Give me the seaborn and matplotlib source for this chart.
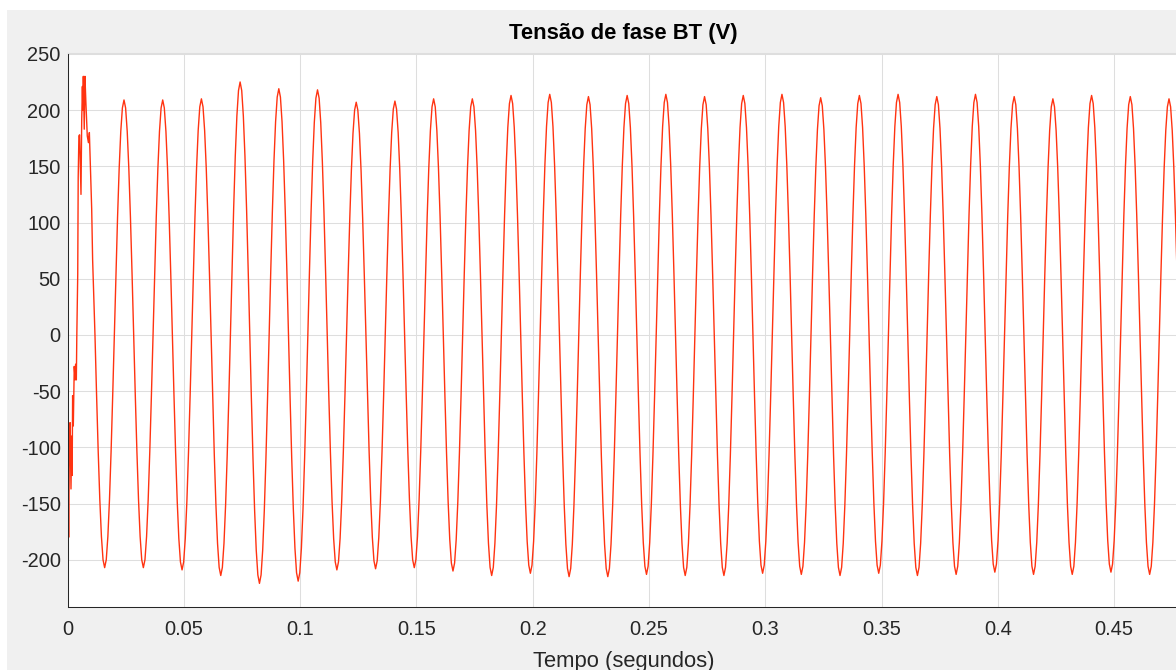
import numpy as np
import pandas as pd
import seaborn as sns
import matplotlib.pyplot as plt
from matplotlib.patches import Rectangle
from matplotlib.ticker import FuncFormatter

# first ~11 ms (switching transient)
t_start = [0.0000, 0.0003, 0.0005, 0.0008, 0.0011, 0.0015, 0.0018, 0.0020, 0.0022,
           0.0025, 0.0029, 0.0033, 0.0035, 0.0038, 0.0040, 0.0044, 0.0046, 0.0049,
           0.0052, 0.0055, 0.0058, 0.0061, 0.0064, 0.0066, 0.0068, 0.0072, 0.0075,
           0.0079, 0.0085, 0.0090, 0.0094, 0.0097, 0.0104, 0.0108]
v_start = [-195, -128, -180, -105, -78, -137, -90, -125, -54,
           -81, -28, -40, -26, -40, -1, 54, 140, 177,
           178, 150, 125, 190, 221, 200, 230, 183, 230,
           207, 177, 171, 180, 159, 112, 67]

# steady state: 24 samples per cycle, starting at the first falling zero crossing
t_first_zero = 0.00349   # first rising zero crossing (s)
period = 0.01664         # s
half_wave = [0.0, 0.259, 0.5, 0.707, 0.866, 0.966, 1.0, 0.966, 0.866, 0.707, 0.5, 0.259]
troughs = [-207, -207, -209, -214, -221, -219, -209, -208, -207, -210, -214, -212, -215, -215,
           -213, -214, -214, -212, -213, -214, -212, -214, -213, -211, -213, -213, -211, -213]
peaks = [209, 209, 210, 225, 219, 218, 207, 208, 210, 210, 213, 214, 212, 213,
         214, 212, 213, 214, 211, 213, 214, 212, 214, 212, 210, 213, 212, 210]

x_ticks = [0, 0.05, 0.1, 0.15, 0.2, 0.25, 0.3, 0.35, 0.4, 0.45]
y_ticks = [-200, -150, -100, -50, 0, 50, 100, 150, 200, 250]

t_steady = t_first_zero + (12 + np.arange(len(troughs) * 24)) * period / 24
v_steady = np.concatenate([np.r_[np.multiply(half_wave, lo), np.multiply(half_wave, hi)]
                           for lo, hi in zip(troughs, peaks)])

df = pd.DataFrame({"t": np.r_[t_start, t_steady], "v": np.r_[v_start, v_steady]})

sns.set_style("white")
plt.rcParams["font.family"] = ["Liberation Sans", "DejaVu Sans"]
plt.rcParams["axes.unicode_minus"] = False

W, H = 1176, 670
fig = plt.figure(figsize=(W / 100, H / 100), dpi=100, facecolor="white")
fig.patches.append(Rectangle((7 / W, 0), 1, 660 / H, transform=fig.transFigure,
                             facecolor="#f0f0f0", edgecolor="none", zorder=-10))
ax = fig.add_axes([67.5 / W, 63 / H, 1112.5 / W, 553.7 / H])
ax.set_facecolor("white")

sns.lineplot(data=df, x="t", y="v", ax=ax, color="#ff3311", linewidth=1.0,
             estimator=None, sort=False)

ax.set_xlim(0, 0.4783)
ax.set_ylim(-242, 250.5)
ax.set_xticks(x_ticks)
ax.set_yticks(y_ticks)
ax.xaxis.set_major_formatter(FuncFormatter(lambda v, _: f"{v:g}"))
ax.grid(True, color="#dedede", linewidth=0.75)
ax.tick_params(direction="in", length=7.2, width=0.75, color="#262626",
               labelsize=14.4, labelcolor="#262626")
ax.tick_params(axis="x", pad=9.5)
ax.tick_params(axis="y", pad=4.8)
for side in ["left", "bottom"]:
    ax.spines[side].set_color("#262626")
    ax.spines[side].set_linewidth(0.75)
ax.spines["top"].set_color("#dedede")
ax.spines["right"].set_visible(False)

ax.set_title("Tensão de fase BT (V)", fontsize=15.8, fontweight="bold", color="black", pad=10.5)
ax.set_xlabel("Tempo (segundos)", fontsize=15.8, color="#262626", labelpad=8.5)
ax.set_ylabel("")

fig.savefig("out.png", dpi=100)
